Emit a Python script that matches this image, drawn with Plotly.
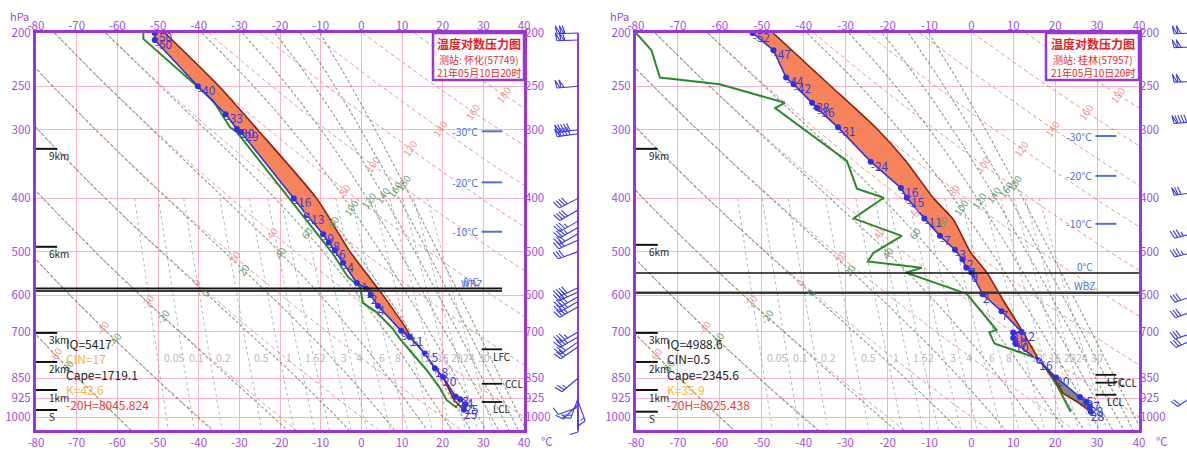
import numpy as np
import plotly.graph_objects as go

W, H = 1187, 450
PX_TOP, PX_BOT = 33, 430
P_TOP, P_BOT = 200.0, 1056.0
LX0, LX1 = 36, 524
RX0, RX1 = 636, 1139

T_TICKS = list(range(-80, 41, 10))
P_TICKS = [200, 250, 300, 400, 500, 600, 700, 850, 925, 1000]

# ---------------- background families ----------------
DRY_THETA = list(range(-60, 181, 20))
DRY_LABEL_P = [771, 686, 617, 568, 511, 462, 420, 386, 347, 324, 298, 278, 259]
MOIST_THETA = list(range(-60, 181, 20))
MOIST_LABEL_P = [810, 723, 656, 594, 540, 501, 462, 440, 415, 403, 394, 385, 375]
MIX_W = [0.05, 0.1, 0.2, 0.5, 1, 1.5, 2, 3, 4, 6, 8, 12, 16, 20, 24, 30]
MIX_LABELS = ['0.05', '0.1', '0.2', '0.5', '1', '1.5', '2', '3', '4', '6', '8', '12', '16', '20', '24', '30']
MIX_LABEL_P = 780

# ---------------- left station: 怀化(57749) ----------------
L_ENV_P = [200, 206, 250, 281, 299, 303, 400, 429, 465, 481, 497, 524, 570, 584, 600, 628, 697, 715, 766, 815, 846, 918, 928, 950, 970]
L_ENV_T = [-50.8, -50.8, -40.2, -33.4, -30.6, -29.6, -16.6, -13.4, -9.4, -8.0, -6.5, -4.5, -1.1, 1.2, 2.3, 4.1, 9.8, 11.9, 15.6, 18.1, 20.1, 23.2, 24.3, 25.5, 25.2]
L_DEW_P = [200, 205, 265, 283, 297, 303, 401, 438, 462, 502, 556, 574, 580, 620, 645, 692, 721, 776, 822, 885, 932, 950, 962]
L_DEW_T = [-53.6, -53.6, -36.5, -34.0, -32.3, -30.6, -17.5, -13.4, -10.9, -7.2, -3.3, -1.1, -0.3, 0.4, 3.8, 7.8, 9.5, 13.2, 16.1, 19.3, 21.0, 22.5, 23.5]
L_PAR_P = [200, 250, 300, 400, 500, 600, 700, 715, 766, 815, 846, 932, 970]
L_PAR_T = [-48.3, -35.0, -25.5, -11.0, -2.8, 5.3, 11.5, 12.0, 15.6, 18.1, 20.1, 22.8, 25.2]
L_POS_TOP = 715
L_NEG_RANGE = (846, 932)
L_STATS = ['IQ=5417', 'CIN=17', 'Cape=1719.1', 'K=42.6', '-20H=8045.824']
L_STATS_COL = ['#222222', '#f2b640', '#222222', '#f2b640', '#ee3a3a']
L_HGT_P = [325, 490, 703, 794, 893, 971]
L_ISO_T = [-30, -20, -10]
L_ISO_P = [302, 374, 460]
L_LEV_NAMES = ['LFC', 'CCL', 'LCL']
L_LEV_P = [753, 870, 939]
L_ZERO_P = 583
L_WBZ_P = 589
L_BARB_P = [200, 206, 250, 300, 305, 400, 420, 440, 452, 464, 476, 500, 582, 592, 604, 616, 630, 700, 715, 730, 745, 850, 925, 935, 948, 960, 975]
L_BARB_DIR = [268, 268, 265, 262, 262, 243, 240, 240, 240, 240, 245, 250, 245, 245, 240, 240, 240, 240, 240, 235, 235, 230, 200, 160, 225, 250, 180]
L_BARB_SPD = [44, 44, 40, 36, 36, 16, 16, 14, 14, 12, 12, 12, 16, 16, 16, 14, 14, 14, 14, 12, 12, 10, 8, 6, 6, 4, 4]
L_TITLE = ['温度对数压力图', '测站: 怀化(57749)', '21年05月10日20时']

# ---------------- right station: 桂林(57957) ----------------
R_ENV_P = [200, 215, 241, 248, 268, 274, 297, 343, 383, 399, 435, 468, 496, 517, 535, 546, 598, 642, 700, 702, 718, 734, 790, 847, 920, 939, 958, 978]
R_ENV_T = [-52.2, -47.2, -44.2, -42.4, -38.0, -36.8, -31.8, -24.0, -16.8, -15.4, -11.2, -7.5, -3.9, -2.1, -1.2, 0.0, 2.7, 7.2, 12.0, 10.0, 10.0, 10.5, 16.2, 20.2, 25.9, 27.5, 28.3, 28.5]
R_DEW_P = [200, 215, 241, 248, 268, 274, 342, 384, 399, 435, 468, 503, 521, 535, 546, 597, 694, 701, 735, 784, 815, 875, 978]
R_DEW_T = [-80.0, -76.3, -74.3, -60.0, -44.5, -46.8, -29.7, -27.3, -20.9, -28.1, -16.6, -23.4, -24.7, -11.8, -15.6, -1.1, 6.0, 4.3, 5.5, 16.2, 17.8, 20.4, 23.7]
R_PAR_P = [200, 250, 300, 343, 400, 437, 500, 546, 613, 700, 790, 845, 906, 937, 978]
R_PAR_T = [-47.3, -33.5, -22.3, -15.5, -9.0, -4.3, -0.3, 3.7, 7.6, 12.3, 16.2, 19.5, 21.9, 25.1, 28.5]
R_POS_TOP = 790
R_NEG_RANGE = (845, 978)
R_STATS = ['IQ=4988.6', 'CIN=0.5', 'Cape=2345.6', 'K=35.9', '-20H=8025.438']
R_STATS_COL = ['#222222', '#222222', '#222222', '#f2b640', '#ee3a3a']
R_HGT_P = [325, 486, 703, 794, 893, 978]
R_ISO_T = [-30, -20, -10]
R_ISO_P = [308, 364, 445]
R_LEV_NAMES = ['LFC', 'CCL', 'LCL']
R_LEV_P = [838, 866, 911]
R_ZERO_P = 547
R_WBZ_P = 594
R_BARB_P = [200, 212, 245, 290, 390, 462, 500, 600, 640, 700, 720, 910]
R_BARB_DIR = [268, 268, 268, 265, 262, 255, 255, 250, 250, 250, 245, 235]
R_BARB_SPD = [40, 40, 40, 36, 28, 14, 14, 12, 12, 12, 12, 8]
R_TITLE = ['温度对数压力图', '测站: 桂林(57957)', '21年05月10日20时']

HGT_NAMES = ['9km', '6km', '3km', '2km', '1km', 'S']
STATS_P = [736, 784, 838, 892, 950]

# ---------------- styling ----------------
FONT = 'Noto Sans CJK SC, Noto Sans, sans-serif'
PURPLE = '#9a36d6'
PURPLE_TXT = '#9d4fd8'
PINK = '#f5b3c8'
BLUE = '#2f2fe0'
BLUE_TXT = '#3b3bd4'
ISO_BLUE = '#4f72d8'
GREEN = '#2b8a2b'
PARCEL = '#8e1d12'
ORANGE = 'rgba(244,122,78,0.92)'
GREYFILL = 'rgba(112,130,120,0.92)'

PXLN = (PX_BOT - PX_TOP) / np.log(P_BOT / P_TOP)
P_FIG_TOP = P_TOP * np.exp(-PX_TOP / PXLN)
P_FIG_BOT = P_TOP * np.exp((H - PX_TOP) / PXLN)
PGRID = np.geomspace(P_TOP, P_BOT, 90)


def theta_se(tc, p):
    t = tc + 273.15
    es = 6.112 * np.exp(17.67 * tc / (tc + 243.5))
    rs = 0.622 * es / (p - es)
    return t * (1000.0 / p) ** 0.2857 * np.exp(2.5e6 * rs / (1005.0 * t))


def moist_t(th_c, p):
    p = np.asarray(p, dtype=float)
    target = th_c + 273.15
    lo = np.full_like(p, -130.0)
    hi = np.full_like(p, 45.0)
    for _ in range(45):
        mid = 0.5 * (lo + hi)
        f = theta_se(mid, p) - target
        hi = np.where(f > 0, mid, hi)
        lo = np.where(f > 0, lo, mid)
    return 0.5 * (lo + hi)


def dry_t(th_c, p):
    return (th_c + 273.15) * (np.asarray(p) / 1000.0) ** 0.2857 - 273.15


def mix_t(w, p):
    e = w * np.asarray(p) / (622.0 + w)
    g = np.log(e / 6.112)
    return 243.5 * g / (17.67 - g)


def barb_xy(x0, p0, wdir, spd, L=21.0, F=8.0, step=3.0):
    a = np.deg2rad(wdir)
    sx, sy = np.sin(a), np.cos(a)
    nx, ny = sy, -sx
    xs, ys = [], []

    def pt(al, pe):
        dx = al * sx + pe * nx
        dy = al * sy + pe * ny
        return x0 + dx, p0 * np.exp(-dy / PXLN)

    def poly(*pts):
        for q in pts:
            xs.append(q[0]); ys.append(q[1])
        xs.append(None); ys.append(None)

    poly(pt(0, 0), pt(L, 0))
    nflag = int(spd // 20)
    rest = spd - 20 * nflag
    nfull = int(rest // 4)
    half = (rest - 4 * nfull) >= 2
    pos = L
    for _ in range(nflag):
        poly(pt(pos, 0), pt(pos + 1.5, F), pt(pos - step, 0))
        pos -= step + 1.0
    for _ in range(nfull):
        poly(pt(pos, 0), pt(pos + 2.5, F))
        pos -= step
    if half:
        poly(pt(pos, 0), pt(pos + 1.3, F * 0.55))
    return xs, ys


fig = go.Figure()
annotations = []
shapes = []


def ann(text, x, p, xref, yref, size=10, color='#222', **kw):
    d = dict(text=text, x=x, y=np.log10(p), xref=xref, yref=yref, showarrow=False,
             xanchor='center', yanchor='middle',
             font=dict(size=size, color=color, family=FONT))
    d.update(kw)
    annotations.append(d)


def pann(text, xpx, ypx, size, color, xanchor='center'):
    annotations.append(dict(text=text, x=xpx / W, y=1 - ypx / H, xref='paper', yref='paper',
                            xanchor=xanchor, yanchor='middle', showarrow=False,
                            font=dict(size=size, color=color, family=FONT)))


def sel(ps, ts, lo, hi):
    pp = [p for p in ps if lo <= p <= hi]
    tt = [t for p, t in zip(ps, ts) if lo <= p <= hi]
    return pp, tt


def build_panel(xa, ya, env_p, env_t, dew_p, dew_t, par_p, par_t, pos_top, neg_rng,
                stats, stats_col, hgt_p, iso_t, iso_p, lev_names, lev_p, zero_p, wbz_p,
                zero_xmax):
    xr, yr = xa, ya
    # dry adiabats
    for th, lp in zip(DRY_THETA, DRY_LABEL_P):
        fig.add_trace(go.Scatter(x=dry_t(th, PGRID), y=PGRID, xaxis=xa, yaxis=ya, mode='lines',
                                 line=dict(color='rgba(228,120,120,0.8)', width=1, dash='4px,3px'),
                                 hoverinfo='skip', showlegend=False))
        ann(str(th), float(dry_t(th, lp)), lp, xr, yr, size=10, color='rgba(238,140,140,0.95)', textangle=-55)
    # moist adiabats
    for th, lp in zip(MOIST_THETA, MOIST_LABEL_P):
        fig.add_trace(go.Scatter(x=moist_t(th, PGRID), y=PGRID, xaxis=xa, yaxis=ya, mode='lines',
                                 line=dict(color='rgba(105,125,90,0.75)', width=1.1, dash='3px,2px'),
                                 hoverinfo='skip', showlegend=False))
        ann(str(th), float(moist_t(th, [lp])[0]), lp, xr, yr, size=10, color='rgba(95,150,95,0.95)', textangle=-55)
    # mixing ratio lines
    pm = np.geomspace(400, P_BOT, 30)
    for w, lab in zip(MIX_W, MIX_LABELS):
        fig.add_trace(go.Scatter(x=mix_t(w, pm), y=pm, xaxis=xa, yaxis=ya, mode='lines',
                                 line=dict(color='rgba(150,165,180,0.8)', width=1, dash='3px,3px'),
                                 hoverinfo='skip', showlegend=False))
        ann(lab, float(mix_t(w, MIX_LABEL_P)), MIX_LABEL_P, xr, yr, size=10.5, color='#b9b9b9',
            xanchor='left', xshift=4)
    # positive area
    pp, pt_ = sel(par_p, par_t, 0, pos_top)
    ep, et = sel(env_p, env_t, 0, pos_top)
    fig.add_trace(go.Scatter(x=pt_ + et[::-1], y=pp + ep[::-1], xaxis=xa, yaxis=ya, mode='lines',
                             fill='toself', fillcolor=ORANGE, line=dict(width=0),
                             hoverinfo='skip', showlegend=False))
    # negative area
    g0, g1 = neg_rng
    np_, nt_ = sel(par_p, par_t, g0, g1)
    ne_p, ne_t = sel(env_p, env_t, g0, g1)
    fig.add_trace(go.Scatter(x=nt_ + ne_t[::-1], y=np_ + ne_p[::-1], xaxis=xa, yaxis=ya, mode='lines',
                             fill='toself', fillcolor=GREYFILL, line=dict(width=0),
                             hoverinfo='skip', showlegend=False))
    # dew point
    fig.add_trace(go.Scatter(x=dew_t, y=dew_p, xaxis=xa, yaxis=ya, mode='lines',
                             line=dict(color=GREEN, width=2), hoverinfo='skip', showlegend=False))
    # parcel (smooth above the LFC, straight below)
    fig.add_trace(go.Scatter(x=pt_, y=pp, xaxis=xa, yaxis=ya, mode='lines',
                             line=dict(color=PARCEL, width=1.6, shape='spline', smoothing=0.6),
                             hoverinfo='skip', showlegend=False))
    lp_, lt_ = sel(par_p, par_t, pos_top, 2000)
    fig.add_trace(go.Scatter(x=lt_, y=lp_, xaxis=xa, yaxis=ya, mode='lines',
                             line=dict(color=PARCEL, width=1.6),
                             hoverinfo='skip', showlegend=False))
    # environment temperature
    fig.add_trace(go.Scatter(x=env_t, y=env_p, xaxis=xa, yaxis=ya, mode='lines+markers',
                             line=dict(color=BLUE, width=1.6), marker=dict(color=BLUE, size=6),
                             hoverinfo='skip', showlegend=False))
    fig.add_trace(go.Scatter(x=env_t, y=env_p, xaxis=xa, yaxis=ya, mode='text',
                             text=[str(int(t)) for t in env_t], textposition='bottom right',
                             textfont=dict(color=BLUE_TXT, size=12, family=FONT),
                             hoverinfo='skip', showlegend=False))
    # 0°C and WBZ levels
    fig.add_trace(go.Scatter(x=[-80, zero_xmax], y=[zero_p, zero_p], xaxis=xa, yaxis=ya, mode='lines',
                             line=dict(color='#111111', width=1.6), hoverinfo='skip', showlegend=False))
    fig.add_trace(go.Scatter(x=[-80, zero_xmax], y=[wbz_p, wbz_p], xaxis=xa, yaxis=ya, mode='lines',
                             line=dict(color='#3a3a3a', width=2.4), hoverinfo='skip', showlegend=False))
    ann('0°C', 27.0, zero_p, xr, yr, size=10, color=ISO_BLUE, yshift=7)
    ann('WBZ', 27.0, wbz_p, xr, yr, size=10, color=ISO_BLUE, yshift=7)
    # height markers
    hx, hy = [], []
    for p in hgt_p:
        hx += [-80, -74.8, None]; hy += [p, p, None]
    fig.add_trace(go.Scatter(x=hx, y=hy, xaxis=xa, yaxis=ya, mode='lines',
                             line=dict(color='#111111', width=2), hoverinfo='skip', showlegend=False))
    for name, p in zip(HGT_NAMES, hgt_p):
        ann(name, -77.4, p, xr, yr, size=10, color='#222', xanchor='left', yshift=-7)
    # stats text
    for s, c, p in zip(stats, stats_col, STATS_P):
        ann(s, -73.0, p, xr, yr, size=12, color=c, xanchor='left')
    # isotherm height markers
    ix, iy = [], []
    for t, p in zip(iso_t, iso_p):
        ix += [29.6, 34.6, None]; iy += [p, p, None]
        ann(f'{t}°C', 29.2, p, xr, yr, size=10.5, color=ISO_BLUE, xanchor='right')
    fig.add_trace(go.Scatter(x=ix, y=iy, xaxis=xa, yaxis=ya, mode='lines',
                             line=dict(color=ISO_BLUE, width=2), hoverinfo='skip', showlegend=False))
    # LFC / CCL / LCL
    lx, ly = [], []
    for name, p in zip(lev_names, lev_p):
        lx += [29.6, 34.6, None]; ly += [p, p, None]
        if name == 'CCL':
            ann(name, 34.8, p, xr, yr, size=10, color='#222', xanchor='left')
        else:
            ann(name, 31.9, p, xr, yr, size=10, color='#222', xanchor='left', yshift=-7)
    fig.add_trace(go.Scatter(x=lx, y=ly, xaxis=xa, yaxis=ya, mode='lines',
                             line=dict(color='#111111', width=1.8), hoverinfo='skip', showlegend=False))


build_panel('x', 'y', L_ENV_P, L_ENV_T, L_DEW_P, L_DEW_T, L_PAR_P, L_PAR_T, L_POS_TOP, L_NEG_RANGE,
            L_STATS, L_STATS_COL, L_HGT_P, L_ISO_T, L_ISO_P, L_LEV_NAMES, L_LEV_P, L_ZERO_P, L_WBZ_P, 34.6)
build_panel('x2', 'y2', R_ENV_P, R_ENV_T, R_DEW_P, R_DEW_T, R_PAR_P, R_PAR_T, R_POS_TOP, R_NEG_RANGE,
            R_STATS, R_STATS_COL, R_HGT_P, R_ISO_T, R_ISO_P, R_LEV_NAMES, R_LEV_P, R_ZERO_P, R_WBZ_P, 40)

# wind barbs
fig.add_trace(go.Scatter(x=[578, 578], y=[P_TOP, P_BOT], xaxis='x5', yaxis='y5', mode='lines',
                         line=dict(color=PURPLE, width=2), hoverinfo='skip', showlegend=False))
xs, ys = [], []
for p, d, s in zip(L_BARB_P, L_BARB_DIR, L_BARB_SPD):
    a, b = barb_xy(578, p, d, s)
    xs += a; ys += b
fig.add_trace(go.Scatter(x=xs, y=ys, xaxis='x5', yaxis='y5', mode='lines',
                         line=dict(color='#3a3ae0', width=1.1), hoverinfo='skip', showlegend=False))
xs, ys = [], []
for p, d, s in zip(R_BARB_P, R_BARB_DIR, R_BARB_SPD):
    a, b = barb_xy(1195, p, d, s)
    xs += a; ys += b
fig.add_trace(go.Scatter(x=xs, y=ys, xaxis='x6', yaxis='y5', mode='lines',
                         line=dict(color='#3a3ae0', width=1.1), hoverinfo='skip', showlegend=False))

# title boxes
for (x0, x1), lines in [((433, 524), L_TITLE), ((1046, 1139), R_TITLE)]:
    shapes.append(dict(type='rect', xref='paper', yref='paper', x0=x0 / W, x1=x1 / W,
                       y0=1 - 80 / H, y1=1 - PX_TOP / H, line=dict(color=PURPLE, width=2.5),
                       fillcolor='white', layer='above'))
    cx = (x0 + x1) / 2
    pann('<b>' + lines[0] + '</b>', cx, 43, 12, '#e02424')
    pann(lines[1], cx, 60, 10, '#e03030')
    pann(lines[2], cx, 72, 10, '#e03030')

for xpx in (8, 608):
    pann('hPa', xpx, 16, 11, PURPLE_TXT, xanchor='left')
for xpx in (547, 1162):
    pann('°C', xpx, 441, 11.5, PURPLE_TXT)

ydom = [1 - PX_BOT / H, 1 - PX_TOP / H]
yrng = [np.log10(P_BOT), np.log10(P_TOP)]
tickfont = dict(size=11.5, color=PURPLE_TXT, family=FONT)
T_TEXT = [str(t) for t in T_TICKS]
P_TEXT = [str(p) for p in P_TICKS]


def xax(dom, anchor):
    return dict(domain=[dom[0] / W, dom[1] / W], range=[-80, 40], anchor=anchor, tickvals=T_TICKS,
                ticktext=T_TEXT, showgrid=True, gridcolor=PINK, gridwidth=1.2, zeroline=False,
                showline=True, linecolor=PURPLE, linewidth=3, mirror=True, ticks='', tickfont=tickfont,
                automargin=False)


def xtop(over, anchor):
    return dict(overlaying=over, side='top', anchor=anchor, range=[-80, 40], tickvals=T_TICKS,
                ticktext=T_TEXT, showgrid=False, zeroline=False, showline=False, ticks='',
                tickfont=tickfont, automargin=False)


def yax(anchor):
    return dict(domain=ydom, type='log', range=yrng, anchor=anchor, tickvals=P_TICKS,
                ticktext=P_TEXT, showgrid=True, gridcolor=PINK, gridwidth=1.2,
                zeroline=False, showline=True, linecolor=PURPLE, linewidth=3, mirror=True,
                ticks='', tickfont=tickfont, automargin=False)


def yright(over, anchor):
    return dict(overlaying=over, side='right', type='log', range=yrng, anchor=anchor, tickvals=P_TICKS,
                ticktext=P_TEXT, showgrid=False, zeroline=False, showline=False,
                ticks='', tickfont=tickfont, automargin=False)


fig.update_layout(
    width=W, height=H, margin=dict(l=0, r=0, t=0, b=0, autoexpand=False),
    paper_bgcolor='white', plot_bgcolor='white', showlegend=False,
    font=dict(family=FONT),
    xaxis=xax((LX0, LX1), 'y'), yaxis=yax('x'),
    xaxis2=xax((RX0, RX1), 'y2'), yaxis2=yax('x2'),
    xaxis3=xtop('x', 'y'), yaxis3=yright('y', 'x'),
    xaxis4=xtop('x2', 'y2'), yaxis4=yright('y2', 'x2'),
    xaxis5=dict(domain=[540 / W, 600 / W], range=[540, 600], anchor='y5', visible=False, automargin=False),
    xaxis6=dict(domain=[1145 / W, 1.0], range=[1145, 1187], anchor='y5', visible=False, automargin=False),
    yaxis5=dict(domain=[0, 1], type='log', range=[np.log10(P_FIG_BOT), np.log10(P_FIG_TOP)],
                anchor='x5', visible=False, automargin=False),
    annotations=annotations, shapes=shapes,
)

fig.add_trace(go.Scatter(x=[None], y=[None], xaxis='x3', yaxis='y3', showlegend=False, hoverinfo='skip'))
fig.add_trace(go.Scatter(x=[None], y=[None], xaxis='x4', yaxis='y4', showlegend=False, hoverinfo='skip'))

fig.write_html('out.html', config={'displayModeBar': False},
               post_script="document.body.style.margin='0px';document.body.style.overflow='hidden';")
